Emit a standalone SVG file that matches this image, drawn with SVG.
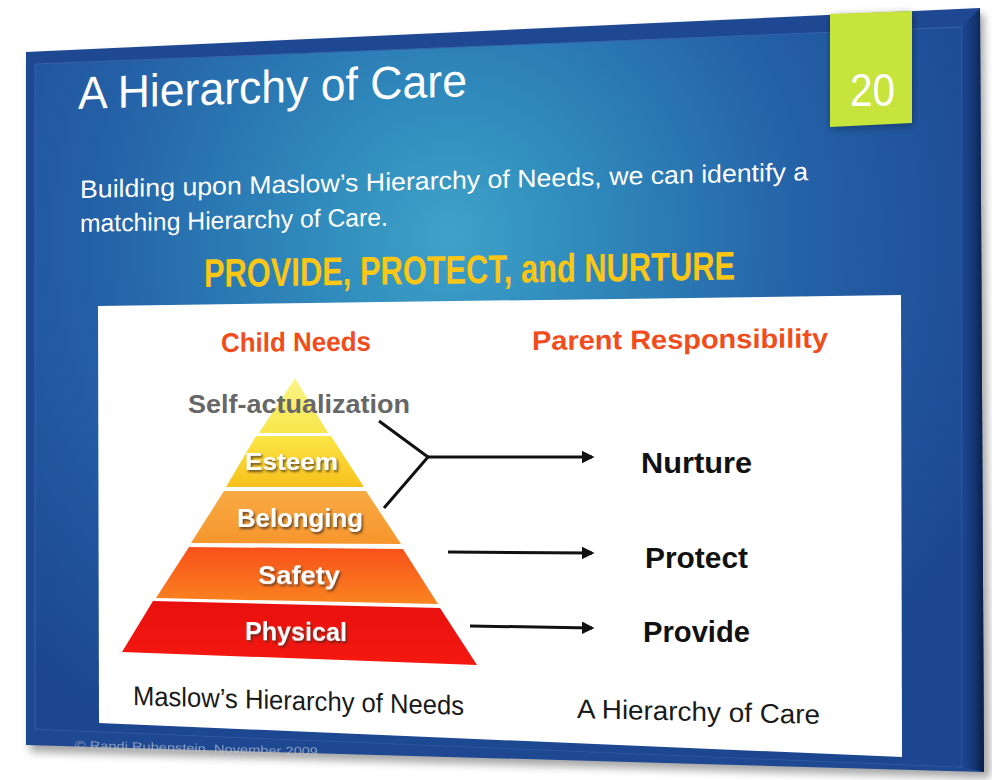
<svg xmlns="http://www.w3.org/2000/svg" width="992" height="780" viewBox="0 0 992 780">
  <defs>
    <style>
      .sans { font-family: "Liberation Sans Narrow", "Liberation Sans", Arial, sans-serif; }
      .title { font-family: "Liberation Sans", Arial, sans-serif; fill: #ffffff; }
      .body { fill: #ffffff; font-size: 25px; }
      .motto { fill: #fcc614; font-size: 40px; font-weight: bold; }
      .head { fill: #f04c1c; font-size: 27px; font-weight: bold; }
      .band { fill: #ffffff; font-weight: bold; filter: url(#txtShadow); }
      .resp { fill: #111111; font-size: 29px; font-weight: bold; }
      .cap { fill: #1a1a1a; font-size: 27px; }
      .link { stroke: #111111; stroke-width: 3; fill: none; }
    </style>
    <radialGradient id="slideBg" gradientUnits="userSpaceOnUse" cx="450" cy="235" r="600">
      <stop offset="0" stop-color="#3ea3c8"/>
      <stop offset="0.25" stop-color="#2f88bb"/>
      <stop offset="0.6" stop-color="#2460a6"/>
      <stop offset="1" stop-color="#1c4690"/>
    </radialGradient>
    <linearGradient id="edgeRight" x1="0" y1="0" x2="1" y2="0">
      <stop offset="0" stop-color="#1d4792"/>
      <stop offset="0.6" stop-color="#14346f"/>
      <stop offset="1" stop-color="#0a1c44"/>
    </linearGradient>
    <linearGradient id="gSelf" x1="0" y1="0" x2="0" y2="1">
      <stop offset="0" stop-color="#fbf48a"/>
      <stop offset="1" stop-color="#f8e64a"/>
    </linearGradient>
    <linearGradient id="gEsteem" x1="0" y1="0" x2="0" y2="1">
      <stop offset="0" stop-color="#fbe646"/>
      <stop offset="1" stop-color="#f7c01c"/>
    </linearGradient>
    <linearGradient id="gBelong" x1="0" y1="0" x2="0" y2="1">
      <stop offset="0" stop-color="#f9aa44"/>
      <stop offset="1" stop-color="#f6962c"/>
    </linearGradient>
    <linearGradient id="gSafety" x1="0" y1="0" x2="0" y2="1">
      <stop offset="0" stop-color="#f8501a"/>
      <stop offset="1" stop-color="#fa8420"/>
    </linearGradient>
    <linearGradient id="gPhys" x1="0" y1="0" x2="0" y2="1">
      <stop offset="0" stop-color="#e8100e"/>
      <stop offset="1" stop-color="#f41810"/>
    </linearGradient>
    <filter id="txtShadow" x="-10%" y="-20%" width="130%" height="150%">
      <feDropShadow dx="1.5" dy="2" stdDeviation="1" flood-color="#3a2a1a" flood-opacity="0.75"/>
    </filter>
    <filter id="soft" x="-5%" y="-5%" width="110%" height="110%">
      <feGaussianBlur stdDeviation="4"/>
    </filter>
    <filter id="faint" x="-5%" y="-50%" width="110%" height="200%">
      <feGaussianBlur stdDeviation="0.7"/>
    </filter>
    <marker id="arrow" viewBox="0 0 10 10" refX="8" refY="5" markerWidth="4.2" markerHeight="4.2" orient="auto" markerUnits="strokeWidth">
      <path d="M0,0 L10,5 L0,10 z" fill="#111111"/>
    </marker>
  </defs>

  <rect width="992" height="780" fill="#ffffff"/>

  <!-- slide body, tilted plate -->
  <g id="slide">
    <polygon points="30,58 984,14 990,778 30,752" fill="#000" opacity="0.35" filter="url(#soft)"/>
    <polygon points="26,52 980,8 984,772 26,745" fill="#1e4891"/>
    <polygon points="35,64 962,27 962,767 35,729" fill="url(#slideBg)" stroke="#3763ab" stroke-width="1"/>
    <polygon points="962,27 980,8 984,772 962,767" fill="url(#edgeRight)"/>
    <polygon points="99,723 902,757 962,767 35,729" fill="#1d4790" opacity="0.8"/>
  </g>

  <!-- page number tab -->
  <g id="page-tab">
    <polygon points="831,16 913,13 913,125 831,129" fill="#000" opacity="0.3" filter="url(#soft)"/>
    <polygon points="830,14 912,11 912,123 830,127" fill="#c6e43c"/>
    <text class="title" x="850" y="106" font-size="46" textLength="45" lengthAdjust="spacingAndGlyphs">20</text>
  </g>

  <!-- heading and intro -->
  <g id="heading">
    <text class="title" transform="translate(78,109) skewY(-1.9)" font-size="46" textLength="389" lengthAdjust="spacingAndGlyphs">A Hierarchy of Care</text>
    <text class="sans body" transform="translate(80,198) skewY(-1.4)" textLength="728" lengthAdjust="spacingAndGlyphs">Building upon Maslow’s Hierarchy of Needs, we can identify a</text>
    <text class="sans body" transform="translate(80,232) skewY(-1.2)" textLength="308" lengthAdjust="spacingAndGlyphs">matching Hierarchy of Care.</text>
    <text class="sans motto" transform="translate(204,287) skewY(-0.8)" textLength="531" lengthAdjust="spacingAndGlyphs">PROVIDE, PROTECT, and NURTURE</text>
  </g>

  <!-- white content panel -->
  <g id="panel">
    <polygon points="98,306 901,295 902,757 99,723" fill="#ffffff"/>
    <text class="sans head" transform="translate(221,352) skewY(-0.5)" textLength="150" lengthAdjust="spacingAndGlyphs">Child Needs</text>
    <text class="sans head" transform="translate(532,350) skewY(-0.5)" textLength="296" lengthAdjust="spacingAndGlyphs">Parent Responsibility</text>
  </g>

  <!-- pyramid levels -->
  <g id="level-self-actualization">
    <polygon points="295,378 328,433 259,433" fill="url(#gSelf)"/>
    <text class="sans" x="188" y="413" font-size="26" font-weight="bold" fill="#676767" textLength="222" lengthAdjust="spacingAndGlyphs">Self-actualization</text>
  </g>
  <g id="level-esteem">
    <polygon points="256,436 331,436 364,487 226,487" fill="url(#gEsteem)"/>
    <text class="sans band" x="245" y="470" font-size="24" textLength="93" lengthAdjust="spacingAndGlyphs">Esteem</text>
  </g>
  <g id="level-belonging">
    <polygon points="224,491 366,491 401,544 191,543" fill="url(#gBelong)"/>
    <text class="sans band" x="237" y="527" font-size="25" textLength="126" lengthAdjust="spacingAndGlyphs">Belonging</text>
  </g>
  <g id="level-safety">
    <polygon points="189,547 403,549 438,604 156,598" fill="url(#gSafety)"/>
    <text class="sans band" transform="translate(258,584) skewY(0.3)" font-size="25" textLength="82" lengthAdjust="spacingAndGlyphs">Safety</text>
  </g>
  <g id="level-physical">
    <polygon points="153,601 440,608 477,665 122,652" fill="url(#gPhys)"/>
    <text class="sans band" transform="translate(245,640) skewY(0.6)" font-size="25" textLength="102" lengthAdjust="spacingAndGlyphs">Physical</text>
  </g>

  <!-- connectors -->
  <g id="connectors">
    <polyline class="link" points="379,421 428,457 384,508"/>
    <line class="link" x1="428" y1="457" x2="592" y2="457" marker-end="url(#arrow)"/>
    <line class="link" x1="448" y1="552" x2="592" y2="553" marker-end="url(#arrow)"/>
    <line class="link" x1="470" y1="626" x2="592" y2="628" marker-end="url(#arrow)"/>
  </g>

  <!-- responsibilities -->
  <g id="resp-nurture">
    <text class="sans resp" x="641" y="473" textLength="111" lengthAdjust="spacingAndGlyphs">Nurture</text>
  </g>
  <g id="resp-protect">
    <text class="sans resp" x="645" y="568" textLength="103" lengthAdjust="spacingAndGlyphs">Protect</text>
  </g>
  <g id="resp-provide">
    <text class="sans resp" x="643" y="642" textLength="107" lengthAdjust="spacingAndGlyphs">Provide</text>
  </g>

  <!-- captions -->
  <g id="captions">
    <text class="sans cap" transform="translate(133,705) skewY(1.7)" textLength="331" lengthAdjust="spacingAndGlyphs">Maslow’s Hierarchy of Needs</text>
    <text class="sans cap" transform="translate(577,718) skewY(1.4)" textLength="243" lengthAdjust="spacingAndGlyphs">A Hierarchy of Care</text>
  </g>

  <!-- footer credit -->
  <g id="footer" filter="url(#faint)" opacity="0.7">
    <text class="sans" transform="translate(75,749) skewY(1.6)" font-size="12" fill="#b9c3d3" textLength="243" lengthAdjust="spacingAndGlyphs">© Randi Rubenstein, November 2009</text>
  </g>
</svg>
